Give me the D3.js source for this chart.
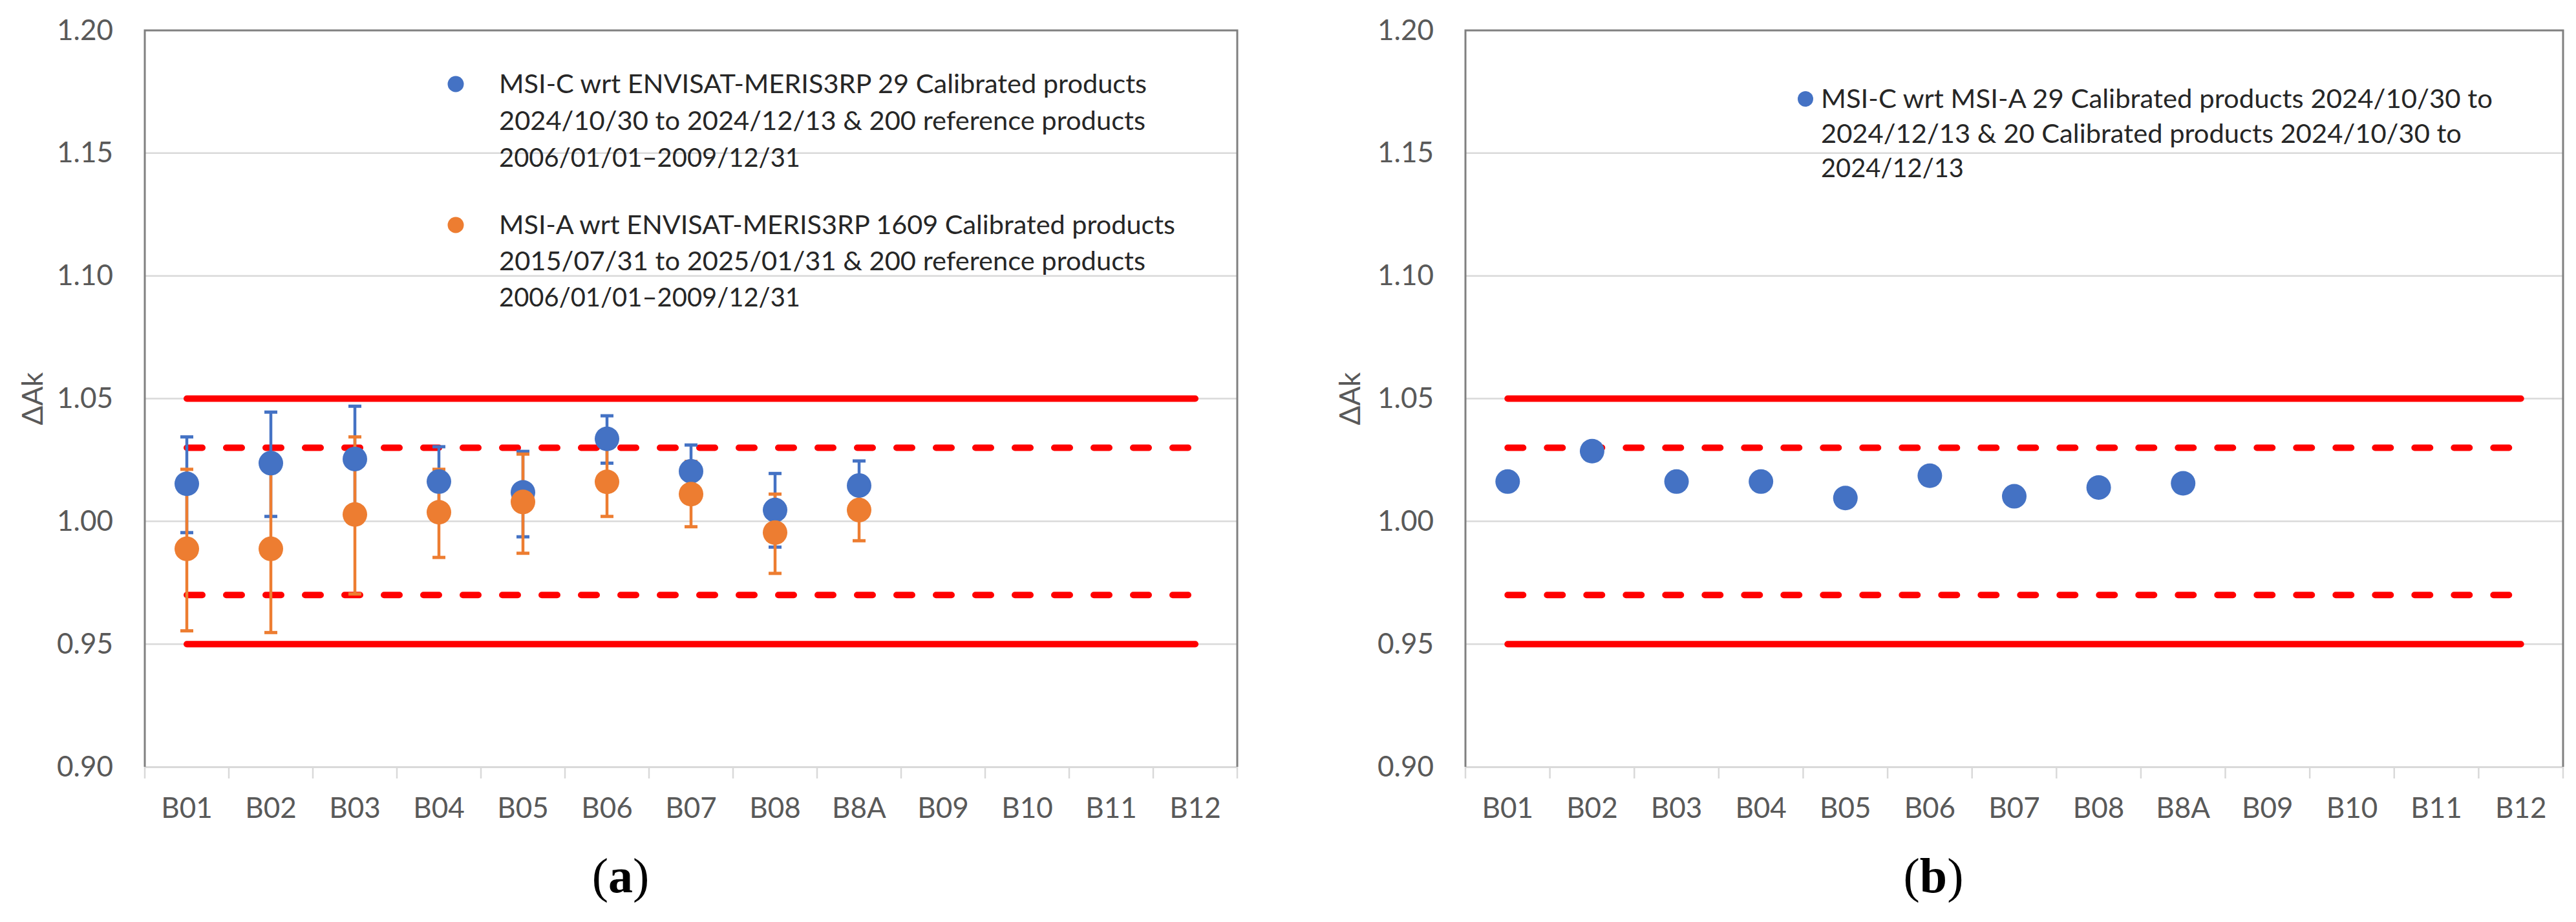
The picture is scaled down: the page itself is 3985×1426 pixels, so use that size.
<!DOCTYPE html>
<html>
<head>
<meta charset="utf-8">
<script src="https://cdn.jsdelivr.net/npm/d3@7"></script>
<style>
  html, body { margin: 0; padding: 0; background: #ffffff; }
  svg { display: block; }
</style>
</head>
<body>
<svg id="chart" width="3985" height="1426"></svg>
<script>
// ---------- DATA ----------
const bands = ["B01","B02","B03","B04","B05","B06","B07","B08","B8A","B09","B10","B11","B12"];
const yTicks = [0.90, 0.95, 1.00, 1.05, 1.10, 1.15, 1.20];

// Panel (a): MSI-C wrt ENVISAT-MERIS3RP (blue)
const msiCBands   = ["B01","B02","B03","B04","B05","B06","B07","B08","B8A"];
const msiCValues  = [1.0153, 1.0237, 1.0254, 1.0162, 1.0118, 1.0336, 1.0204, 1.0046, 1.0146];
const msiCErrUp   = [0.0191, 0.0208, 0.0215, 0.0142, 0.0167, 0.0094, 0.0107, 0.0149, 0.0100];
const msiCErrDown = [0.0199, 0.0217, 0.0215, 0.0142, 0.0181, 0.0099, 0.0107, 0.0151, 0.0100];

// Panel (a): MSI-A wrt ENVISAT-MERIS3RP (orange)
const msiABands   = ["B01","B02","B03","B04","B05","B06","B07","B08","B8A"];
const msiAValues  = [0.9888, 0.9888, 1.0028, 1.0037, 1.0079, 1.0161, 1.0111, 0.9954, 1.0046];
const msiAErrUp   = [0.0324, 0.0340, 0.0316, 0.0175, 0.0195, 0.0141, 0.0133, 0.0157, 0.0125];
const msiAErrDown = [0.0334, 0.0341, 0.0324, 0.0184, 0.0209, 0.0141, 0.0133, 0.0166, 0.0125];

// Panel (b): MSI-C wrt MSI-A (blue)
const cvaBands  = ["B01","B02","B03","B04","B05","B06","B07","B08","B8A"];
const cvaValues = [1.0162, 1.0286, 1.0162, 1.0162, 1.0095, 1.0186, 1.0102, 1.0138, 1.0155];

// Reference limits
const solidLimits  = [1.05, 0.95];
const dashedLimits = [1.03, 0.97];

// Legend texts
const legendA1 = ["MSI-C wrt ENVISAT-MERIS3RP 29 Calibrated products",
                  "2024/10/30 to 2024/12/13 & 200 reference products",
                  "2006/01/01\u20132009/12/31"];
const legendA2 = ["MSI-A wrt ENVISAT-MERIS3RP 1609 Calibrated products",
                  "2015/07/31 to 2025/01/31 & 200 reference products",
                  "2006/01/01\u20132009/12/31"];
const legendB  = ["MSI-C wrt MSI-A 29 Calibrated products 2024/10/30 to",
                  "2024/12/13 & 20 Calibrated products 2024/10/30 to",
                  "2024/12/13"];
const panelLabels = ["a", "b"];
const yLabel = "\u0394Ak";

// ---------- STYLE ----------
const BLUE = "#4472C4", ORANGE = "#ED7D31", RED = "#FF0000";
const AXIS_TXT = "#595959", GRID = "#d9d9d9", BORDER = "#808080";
const FONT = "Lato, 'Open Sans', sans-serif";

const svg = d3.select("#chart");
const yTop = 47, yBot = 1186;

function panel(cfg) {
  const g = svg.append("g");
  const x = d3.scaleBand().domain(bands).range([cfg.x0, cfg.x1]).padding(0);
  const xc = d => x(d) + x.bandwidth() / 2;
  const y = d3.scaleLinear().domain([0.90, 1.20]).range([yBot, yTop]);

  // gridlines
  g.append("g").selectAll("line").data(yTicks.filter(t => t > 0.90 && t < 1.20)).join("line")
    .attr("x1", cfg.x0).attr("x2", cfg.x1)
    .attr("y1", d => y(d)).attr("y2", d => y(d))
    .attr("stroke", GRID).attr("stroke-width", 2.5);

  // x axis (bottom) with ticks at band boundaries
  const xAxis = d3.axisBottom(x).tickSize(0).tickFormat("");
  g.append("g").attr("transform", `translate(0,${y(0.90)})`).call(xAxis)
    .call(s => s.select(".domain").attr("stroke", GRID).attr("stroke-width", 3));
  const bounds = bands.map(b => x(b)).concat([cfg.x1]);
  g.append("g").selectAll("line").data(bounds).join("line")
    .attr("x1", d => d).attr("x2", d => d)
    .attr("y1", y(0.90)).attr("y2", y(0.90) + 18)
    .attr("stroke", GRID).attr("stroke-width", 2.5);
  g.append("g").selectAll("text").data(bands).join("text")
    .attr("x", d => xc(d)).attr("y", 1265)
    .attr("text-anchor", "middle")
    .attr("font-family", FONT).attr("font-size", 44).attr("fill", AXIS_TXT)
    .text(d => d);

  // plot border (left, top, right)
  g.append("path")
    .attr("d", `M${cfg.x0},${y(0.90)}V${y(1.20)}H${cfg.x1}V${y(0.90)}`)
    .attr("fill", "none").attr("stroke", BORDER).attr("stroke-width", 3);

  // y axis labels
  const yAxis = d3.axisLeft(y).tickValues(yTicks).tickSize(0).tickPadding(49)
    .tickFormat(d3.format(".2f"));
  g.append("g").attr("transform", `translate(${cfg.x0},0)`).call(yAxis)
    .call(s => s.select(".domain").remove())
    .call(s => s.selectAll("text").attr("font-family", FONT).attr("font-size", 44)
      .attr("fill", AXIS_TXT));

  g.append("text")
    .attr("transform", `translate(${cfg.yLabX},${(yTop + yBot) / 2}) rotate(-90)`)
    .attr("text-anchor", "middle").attr("dy", "0.35em")
    .attr("font-family", FONT).attr("font-size", 44).attr("fill", AXIS_TXT)
    .text(yLabel);

  // red limits
  const lineGen = d3.line().x(d => xc(d[0])).y(d => y(d[1]));
  const first = bands[0], last = bands[bands.length - 1];
  g.append("g").selectAll("path").data(solidLimits).join("path")
    .attr("d", v => lineGen([[first, v], [last, v]]))
    .attr("stroke", RED).attr("stroke-width", 10).attr("stroke-linecap", "round").attr("fill", "none");
  g.append("g").selectAll("path").data(dashedLimits).join("path")
    .attr("d", v => lineGen([[first, v], [last, v]]))
    .attr("stroke", RED).attr("stroke-width", 10).attr("stroke-linecap", "round")
    .attr("stroke-dasharray", "24,37").attr("fill", "none");

  return { g, x, xc, y };
}

function errorBars(p, bandsArr, vals, up, down, color) {
  const data = bandsArr.map((b, i) => ({ b, v: vals[i], hi: vals[i] + up[i], lo: vals[i] - down[i] }));
  const eg = p.g.append("g");
  eg.selectAll("line.v").data(data).join("line")
    .attr("x1", d => p.xc(d.b)).attr("x2", d => p.xc(d.b))
    .attr("y1", d => p.y(d.hi)).attr("y2", d => p.y(d.lo))
    .attr("stroke", color).attr("stroke-width", 4.5);
  ["hi", "lo"].forEach(k => {
    eg.selectAll("line." + k).data(data).join("line")
      .attr("x1", d => p.xc(d.b) - 10).attr("x2", d => p.xc(d.b) + 10)
      .attr("y1", d => p.y(d[k])).attr("y2", d => p.y(d[k]))
      .attr("stroke", color).attr("stroke-width", 5);
  });
}

function markers(p, bandsArr, vals, color) {
  p.g.append("g").selectAll("circle").data(bandsArr.map((b, i) => ({ b, v: vals[i] }))).join("circle")
    .attr("cx", d => p.xc(d.b)).attr("cy", d => p.y(d.v)).attr("r", 19)
    .attr("fill", color);
}

function legendBlock(lines, bx, by, r, tx, lh, widths, color) {
  const lg = svg.append("g");
  lg.append("circle").attr("cx", bx).attr("cy", by).attr("r", r).attr("fill", color);
  lg.selectAll("text").data(lines).join("text")
    .attr("x", tx).attr("y", (d, i) => by + i * lh).attr("dy", "0.36em")
    .attr("font-family", FONT).attr("font-size", 40).attr("fill", "#262626")
    .attr("textLength", (d, i) => widths[i]).attr("lengthAdjust", "spacingAndGlyphs")
    .text(d => d);
}

function panelLabel(letter, cx) {
  const t = svg.append("text").attr("x", cx).attr("y", 1380).attr("text-anchor", "middle")
    .attr("font-family", "'Liberation Serif', 'DejaVu Serif', serif").attr("font-size", 76).attr("fill", "#000");
  t.append("tspan").text("(");
  t.append("tspan").attr("font-weight", "bold").text(letter);
  t.append("tspan").text(")");
}

// ---------- PANEL (a) ----------
const pa = panel({ x0: 224, x1: 1914, yLabX: 51 });
errorBars(pa, msiCBands, msiCValues, msiCErrUp, msiCErrDown, BLUE);
errorBars(pa, msiABands, msiAValues, msiAErrUp, msiAErrDown, ORANGE);
markers(pa, msiCBands, msiCValues, BLUE);
markers(pa, msiABands, msiAValues, ORANGE);
legendBlock(legendA1, 705, 130, 12.5, 772, 57, [1002, 1000, 466], BLUE);
legendBlock(legendA2, 705, 348, 12.5, 772, 56, [1046, 1000, 466], ORANGE);
panelLabel(panelLabels[0], 960);

// ---------- PANEL (b) ----------
const pb = panel({ x0: 2267, x1: 3965, yLabX: 2089 });
markers(pb, cvaBands, cvaValues, BLUE);
legendBlock(legendB, 2793, 153, 12, 2817, 53.5, [1039, 991, 221], BLUE);
panelLabel(panelLabels[1], 2991);
</script>
</body>
</html>
